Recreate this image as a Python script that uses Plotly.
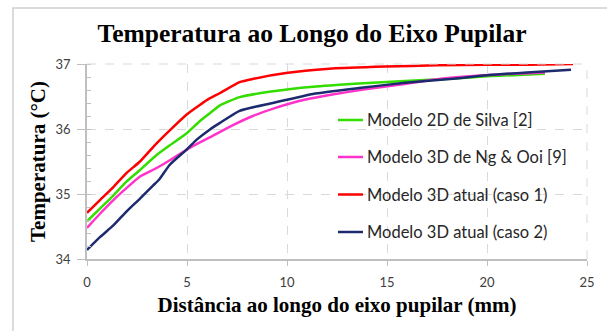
import plotly.graph_objects as go

# Distance along the pupillary axis (mm) and temperature (°C) for each model
silva_x = [0, 0.66, 1.33, 1.97, 2.65, 3.48, 4.14, 4.97, 5.64, 6.13, 6.63, 7.63,
           9.29, 11.3, 13.6, 15.9, 17.9, 20.0, 22.9]
silva_t = [34.58, 34.78, 34.98, 35.19, 35.37, 35.60, 35.75, 35.93, 36.12, 36.24,
           36.36, 36.49, 36.58, 36.65, 36.70, 36.74, 36.77, 36.81, 36.85]

ngooi_x = [0, 0.66, 1.33, 1.97, 2.65, 3.48, 4.14, 4.97, 5.5, 6.13, 7.3, 8.29,
           9.28, 10.6, 12.27, 13.9, 15.6, 17.6, 20.1, 22.9]
ngooi_t = [34.48, 34.70, 34.91, 35.09, 35.27, 35.40, 35.52, 35.68, 35.77, 35.87,
           36.06, 36.20, 36.31, 36.43, 36.53, 36.61, 36.68, 36.77, 36.83, 36.87]

caso1_x = [0, 0.66, 1.33, 1.97, 2.65, 3.48, 4.14, 4.97, 5.64, 6.13, 6.63, 7.63,
           8.29, 9.95, 12.27, 14.93, 17.5, 20.0, 22.0, 24.3]
caso1_t = [34.71, 34.91, 35.11, 35.32, 35.50, 35.78, 35.98, 36.22, 36.37, 36.47,
           36.55, 36.72, 36.77, 36.86, 36.93, 36.96, 36.98, 36.99, 36.99, 37.0]

caso2_x = [0, 0.66, 1.33, 1.97, 2.65, 3.3, 3.6, 4.14, 4.97, 5.5, 6.13, 6.63, 7.63,
           9.29, 11.3, 13.6, 15.9, 18.6, 20.1, 22.0, 24.2]
caso2_t = [34.14, 34.34, 34.52, 34.73, 34.93, 35.13, 35.22, 35.45, 35.68, 35.84,
           35.99, 36.09, 36.28, 36.40, 36.54, 36.63, 36.71, 36.78, 36.83, 36.87, 36.91]

series = [
    ("Modelo 2D de Silva [2]", silva_x, silva_t, "#33dd00"),
    ("Modelo 3D de Ng & Ooi [9]", ngooi_x, ngooi_t, "#ff33cc"),
    ("Modelo 3D atual (caso 1)", caso1_x, caso1_t, "#ff0000"),
    ("Modelo 3D atual (caso 2)", caso2_x, caso2_t, "#1c2a6e"),
]

x_ticks = [0, 5, 10, 15, 20, 25]
y_ticks = [34, 35, 36, 37]

serif = "Liberation Serif"
sans = "Lato"

# Plot-area placement in pixels
W, H = 607, 331
L, R, T, B = 87, 20, 64, 72
PW, PH = W - L - R, H - T - B


def px_x(p):
    return (p - L) / PW


def px_y(p):
    return (H - B - p) / PH


fig = go.Figure()
for name, xs, ts, color in series:
    fig.add_trace(go.Scatter(
        x=xs, y=ts, name=name, mode="lines", showlegend=False,
        line=dict(color=color, width=2.5, shape="spline", smoothing=0.5),
    ))

# Legend: short line sample followed by the series name
legend_rows = [120, 157, 194.5, 232]
for (name, _, _, color), row in zip(series, legend_rows):
    fig.add_shape(type="line", xref="paper", yref="paper",
                  x0=px_x(338), x1=px_x(363), y0=px_y(row), y1=px_y(row),
                  line=dict(color=color, width=2.5))
    fig.add_annotation(text=name, xref="paper", yref="paper",
                       x=px_x(365), y=px_y(row), xanchor="left", yanchor="middle",
                       showarrow=False,
                       font=dict(family=sans, size=16.5, color="#262626"))

fig.update_layout(
    width=W, height=H,
    margin=dict(l=L, r=R, t=T, b=B),
    paper_bgcolor="white", plot_bgcolor="white",
    title=dict(text="<b>Temperatura ao Longo do Eixo Pupilar</b>",
               font=dict(family=serif, size=25.5, color="black"),
               x=312 / W, xanchor="center", y=1 - 33 / H, yanchor="middle"),
    xaxis=dict(
        range=[0, 25], tickvals=x_ticks, ticks="outside", ticklen=5,
        tickcolor="#bfbfbf", showline=True, linecolor="#bfbfbf", linewidth=1.5,
        showgrid=True, gridcolor="#d9d9d9", griddash="dash", gridwidth=1,
        zeroline=False, tickfont=dict(family=sans, size=13, color="#404040"),
        ticklabelstandoff=6,
        title=dict(text="<b>Distância ao longo do eixo pupilar (mm)</b>",
                   font=dict(family=serif, size=21, color="black"), standoff=8),
    ),
    yaxis=dict(
        range=[34, 37], tickvals=y_ticks, ticks="outside", ticklen=8,
        tickcolor="#bfbfbf", showline=True, linecolor="#bfbfbf", linewidth=1.5,
        showgrid=True, gridcolor="#d9d9d9", griddash="dash", gridwidth=1,
        zeroline=False, tickfont=dict(family=sans, size=13, color="#404040"),
        ticklabelstandoff=4,
        minor=dict(dtick=0.2, ticks="inside", ticklen=4, tickcolor="#bfbfbf",
                   showgrid=False),
        title=dict(text="<b>Temperatura (°C)</b>",
                   font=dict(family=serif, size=21, color="black"), standoff=4),
    ),
)

# Dashed border lines along the top and right of the plotting area
fig.add_shape(type="line", xref="paper", yref="paper", x0=0, x1=1, y0=1, y1=1,
              line=dict(color="#d9d9d9", width=1, dash="dash"))
fig.add_shape(type="line", xref="paper", yref="paper", x0=1, x1=1, y0=0, y1=1,
              line=dict(color="#d9d9d9", width=1, dash="dash"))

# Light frame around the whole chart
fig.add_shape(type="rect", xref="paper", yref="paper",
              x0=px_x(13), x1=px_x(615), y0=px_y(340), y1=px_y(8),
              line=dict(color="#d0d0d0", width=1.5), layer="below")

fig.write_html("out.html")
